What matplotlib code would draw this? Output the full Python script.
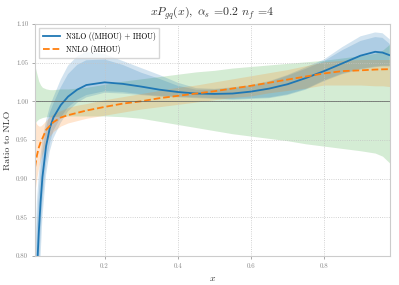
import matplotlib
matplotlib.use("Agg")
import matplotlib.pyplot as plt
import numpy as np

plt.rcParams["font.family"] = "serif"
plt.rcParams["font.serif"] = ["cmr10", "DejaVu Serif"]
plt.rcParams["mathtext.fontset"] = "cm"
plt.rcParams["axes.formatter.use_mathtext"] = True

# x grid
x = [0.01, 0.015, 0.02, 0.025, 0.03, 0.04, 0.05, 0.06, 0.08, 0.1, 0.125, 0.15,
     0.2, 0.25, 0.3, 0.35, 0.4, 0.45, 0.5, 0.55, 0.6, 0.65, 0.7, 0.75, 0.8,
     0.85, 0.9, 0.94, 0.96, 0.98]

# N3LO central and bands
n3lo = [0.70, 0.78, 0.83, 0.87, 0.902, 0.942, 0.965, 0.979, 0.995, 1.006, 1.015, 1.021,
        1.0245, 1.0225, 1.019, 1.015, 1.012, 1.010, 1.0095, 1.010, 1.0125, 1.0164, 1.022, 1.030, 1.039,
        1.049, 1.059, 1.064, 1.063, 1.0595]
n3lo_tot_lo = [0.60, 0.68, 0.74, 0.80, 0.85, 0.905, 0.935, 0.952, 0.972, 0.987, 0.998, 1.005,
               1.011, 1.010, 1.008, 1.006, 1.005, 1.004, 1.003, 1.002, 1.003, 1.004, 1.008, 1.015, 1.026,
               1.035, 1.041, 1.044, 1.045, 1.045]
n3lo_tot_hi = [0.80, 0.87, 0.905, 0.93, 0.95, 0.975, 0.993, 1.005, 1.028, 1.046, 1.058, 1.064,
               1.061, 1.052, 1.043, 1.034, 1.024, 1.017, 1.016, 1.018, 1.021, 1.026, 1.034, 1.044, 1.054,
               1.070, 1.084, 1.089, 1.088, 1.080]
n3lo_mhou_lo = [0.64, 0.72, 0.78, 0.83, 0.87, 0.92, 0.945, 0.962, 0.979, 0.992, 1.002, 1.008,
                1.013, 1.012, 1.009, 1.007, 1.006, 1.005, 1.004, 1.003, 1.004, 1.005, 1.009, 1.016, 1.027,
                1.036, 1.042, 1.045, 1.046, 1.046]
n3lo_mhou_hi = [0.76, 0.84, 0.88, 0.91, 0.935, 0.965, 0.985, 0.997, 1.018, 1.035, 1.047, 1.053,
                1.054, 1.047, 1.037, 1.029, 1.020, 1.015, 1.015, 1.017, 1.020, 1.025, 1.033, 1.042, 1.052,
                1.066, 1.078, 1.083, 1.082, 1.074]

# NNLO central and band
nnlo = [0.915, 0.93, 0.94, 0.947, 0.952, 0.963, 0.968, 0.973, 0.979, 0.982, 0.985, 0.988,
        0.9927, 0.997, 1.000, 1.004, 1.007, 1.010, 1.013, 1.0165, 1.020, 1.024, 1.028, 1.032, 1.036,
        1.039, 1.040, 1.041, 1.0413, 1.0415]
nnlo_lo = [0.885, 0.902, 0.915, 0.925, 0.932, 0.946, 0.955, 0.961, 0.968, 0.972, 0.975, 0.978,
           0.982, 0.986, 0.990, 0.993, 0.996, 0.999, 1.002, 1.005, 1.007, 1.011, 1.014, 1.017, 1.021,
           1.021, 1.021, 1.020, 1.020, 1.019]
nnlo_hi = [0.975, 0.970, 0.968, 0.968, 0.970, 0.975, 0.980, 0.984, 0.988, 0.992, 0.995, 0.997,
           1.002, 1.006, 1.010, 1.014, 1.018, 1.021, 1.025, 1.029, 1.033, 1.037, 1.041, 1.046, 1.051,
           1.053, 1.054, 1.054, 1.054, 1.054]

# NLO band
nlo_lo = [0.972, 0.975, 0.977, 0.978, 0.979, 0.980, 0.980, 0.980, 0.981, 0.981, 0.981, 0.981,
          0.981, 0.980, 0.978, 0.974, 0.970, 0.966, 0.962, 0.958, 0.955, 0.952, 0.949, 0.945, 0.942,
          0.939, 0.936, 0.933, 0.929, 0.920]
nlo_hi = [1.045, 1.035, 1.026, 1.021, 1.018, 1.016, 1.015, 1.015, 1.016, 1.016, 1.017, 1.018,
          1.022, 1.026, 1.029, 1.032, 1.035, 1.038, 1.040, 1.043, 1.045, 1.047, 1.049, 1.051, 1.053,
          1.056, 1.059, 1.062, 1.066, 1.074]

fig = plt.figure(figsize=(3.99, 2.85), dpi=100)
ax = fig.add_axes([0.088, 0.102, 0.889, 0.814])

ax.fill_between(x, nlo_lo, nlo_hi, color="tab:green", alpha=0.2, lw=0)
ax.fill_between(x, n3lo_tot_lo, n3lo_tot_hi, color="tab:blue", alpha=0.2, lw=0)
ax.fill_between(x, n3lo_mhou_lo, n3lo_mhou_hi, color="tab:blue", alpha=0.2, lw=0)
ax.fill_between(x, nnlo_lo, nnlo_hi, color="tab:orange", alpha=0.2, lw=0)

ax.plot(x, n3lo, color="tab:blue", lw=1.3, label="N3LO ((MHOU) + IHOU)")
ax.plot(x, nnlo, color="tab:orange", lw=1.3, ls="--", label="NNLO (MHOU)")
ax.axhline(1.0, color="#555555", lw=0.6, alpha=0.8)

ax.set_xlim(0.01, 0.98)
ax.set_ylim(0.80, 1.10)
ax.set_xticks([0.2, 0.4, 0.6, 0.8])
ax.set_yticks([0.80, 0.85, 0.90, 0.95, 1.00, 1.05, 1.10])
ax.set_xticklabels(["0.2", "0.4", "0.6", "0.8"])
ax.set_yticklabels(["0.80", "0.85", "0.90", "0.95", "1.00", "1.05", "1.10"])
ax.tick_params(labelsize=5, colors="#888888", length=2.5, width=0.5, pad=2.5)
ax.grid(True, ls=":", color="#c4c4c4", lw=0.6)
for s in ax.spines.values():
    s.set_color("#cccccc")
    s.set_linewidth(0.8)

ax.set_xlabel(r"$x$", fontsize=7, color="#333333", labelpad=4)
ax.set_ylabel("Ratio to NLO", fontsize=7, color="#333333", labelpad=3)
ax.set_title(r"$xP_{gq}(x),\ \alpha_s$ =0.2 $n_f$ =4", fontsize=8.5, color="#333333", pad=6)
ax.legend(loc="upper left", fontsize=5.5, frameon=True, edgecolor="#cccccc", fancybox=False,
          handlelength=2.2, borderpad=0.5, labelspacing=0.6)

fig.savefig("out.png", dpi=100)
